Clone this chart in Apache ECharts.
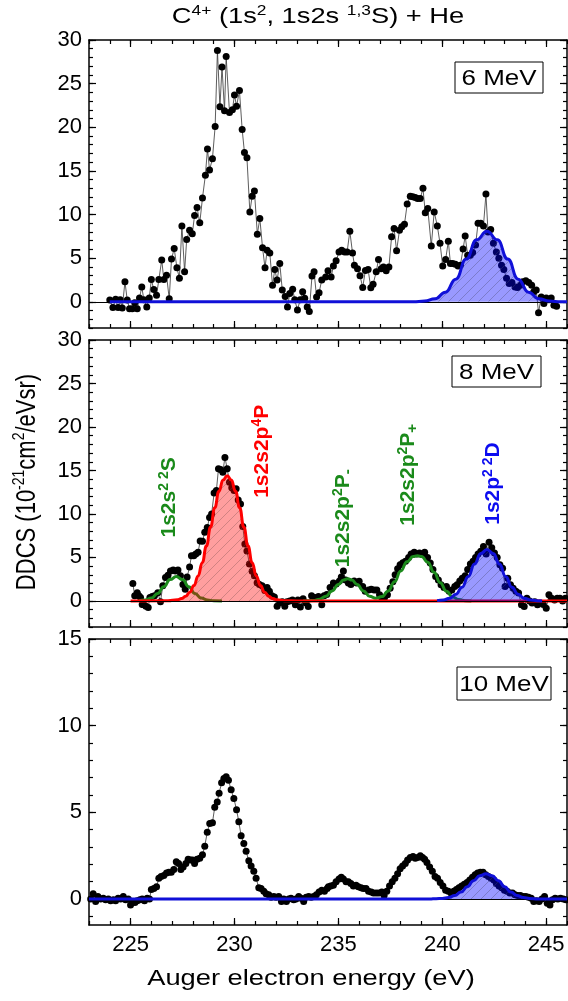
<!DOCTYPE html>
<html>
<head>
<meta charset="utf-8">
<title>C4+ + He Auger spectra</title>
<script src="https://cdn.jsdelivr.net/npm/echarts@6.0.0/dist/echarts.min.js"></script>
<style>
  html, body { margin: 0; padding: 0; background: #fff; }
  #chart { width: 568px; height: 1001px; }
</style>
</head>
<body>
<div id="chart"></div>
<script>
// ---- measured spectra: [Auger electron energy (eV), DDCS (1e-21 cm^2/eV sr)] ----
const scan6MeV = [
  [224.0,0.2],[224.15,-0.65],[224.28,0.3],[224.4,-0.65],[224.5,0.25],[224.6,-0.7],[224.73,2.3],[224.84,0.2],
  [224.95,-0.8],[225.08,-0.8],[225.2,-0.1],[225.32,-0.8],[225.43,0.45],[225.54,1.7],[225.64,0.25],[225.78,-0.6],
  [225.9,0.45],[226.0,2.55],[226.12,1.4],[226.25,0.75],[226.36,2.55],[226.5,4.8],[226.6,2.55],[226.73,3.05],
  [226.86,0.35],[226.97,4.9],[227.1,6.1],[227.23,3.9],[227.35,2.7],[227.47,8.7],[227.6,3.45],[227.7,7.15],
  [227.84,8.2],[227.97,7.8],[228.08,9.9],[228.2,10.8],[228.33,9.05],[228.46,11.9],[228.6,14.5],[228.7,17.5],
  [228.8,15.1],[228.94,16.4],[229.07,20.1],[229.18,28.8],[229.3,22.35],[229.4,26.9],[229.52,21.9],[229.6,28.1],
  [229.76,21.7],[229.9,22.0],[230.0,23.7],[230.1,22.4],[230.24,24.2],[230.37,19.75],[230.48,17.1],[230.6,16.5],
  [230.74,10.3],[230.85,12.1],[230.96,12.7],[231.1,7.75],[231.22,9.55],[231.35,6.2],[231.47,3.9],[231.57,5.9],
  [231.7,5.6],[231.83,1.9],[231.94,3.7],[232.05,2.5],[232.18,4.4],[232.3,1.35],[232.44,0.6],[232.55,-0.6],
  [232.66,0.95],[232.8,1.45],[232.9,0.25],[233.03,-0.95],[233.16,0.25],[233.28,1.15],[233.38,0.4],[233.5,-0.6],
  [233.6,-1.1],[233.73,2.95],[233.83,3.45],[233.95,0.55],[234.07,1.05],[234.2,2.5],[234.39,2.85],[234.5,3.55],
  [234.65,2.85],[234.76,4.1],[234.89,4.7],[235.03,5.7],[235.16,5.9],[235.3,5.7],[235.42,5.7],[235.55,8.1],
  [235.68,5.6],[235.77,4.2],[235.92,3.8],[236.04,3.0],[236.17,1.65],[236.3,3.6],[236.43,3.7],[236.56,1.6],
  [236.67,2.0],[236.82,3.45],[236.93,4.85],[237.06,3.8],[237.17,4.0],[237.3,3.55],[237.43,4.0],[237.56,7.45],
  [237.68,8.4],[237.8,5.85],[237.94,8.2],[238.05,8.6],[238.18,8.9],[238.31,11.2],[238.46,12.1],[238.58,12.05],
  [238.7,11.95],[238.81,11.85],[238.94,11.85],[239.07,13.0],[239.18,10.2],[239.3,10.7],[239.47,6.4],[239.61,10.3],
  [239.76,8.7],[239.89,6.7],[240.02,4.1],[240.16,4.85],[240.29,6.95],[240.39,4.4],[240.5,4.4],[240.63,4.3],
  [240.76,4.1],[240.87,4.2],[241.0,6.05],[241.1,7.55],[241.22,5.35],[241.35,5.35],[241.46,5.65],[241.6,6.5],
  [241.72,9.0],[241.85,9.0],[241.98,8.7],[242.1,12.35],[242.2,8.0],[242.33,8.3],[242.46,6.7],[242.6,5.7],
  [242.72,5.0],[242.85,4.2],[242.96,3.7],[243.09,2.7],[243.22,2.1],[243.35,2.2],[243.5,1.7],[243.62,1.65],
  [243.76,1.9],[243.87,2.3],[244.02,2.4],[244.16,2.2],[244.3,1.9],[244.4,1.15],[244.52,1.35],[244.63,-1.25],
  [244.76,0.55],[244.89,-0.2],[245.0,0.45],[245.13,0.25],[245.24,0.45],[245.37,-0.4],[245.5,-0.5]
];

const scan8MeV = [
  [225.11,2.0],[225.2,0.6],[225.32,0.95],[225.4,0.6],[225.48,0.4],[225.56,-0.4],[225.64,-0.45],[225.74,-0.6],
  [225.85,-0.75],[225.93,0.4],[226.04,0.5],[226.15,0.6],[226.31,0.95],[226.44,-0.1],[226.55,1.75],[226.68,2.7],
  [226.8,2.95],[226.92,3.45],[227.05,3.55],[227.16,3.45],[227.28,3.55],[227.4,2.9],[227.52,1.9],[227.63,1.35],
  [227.72,2.75],[227.84,3.9],[227.93,5.2],[228.04,5.2],[228.14,5.4],[228.25,5.6],[228.35,6.9],[228.46,6.85],
  [228.57,7.9],[228.69,8.45],[228.8,9.6],[228.9,10.0],[229.02,12.4],[229.13,12.7],[229.23,15.2],[229.33,15.1],
  [229.44,14.8],[229.54,16.5],[229.65,15.2],[229.76,13.65],[229.87,13.0],[229.98,12.7],[230.08,12.9],[230.18,11.6],
  [230.29,11.15],[230.4,8.55],[230.5,6.55],[230.6,5.75],[230.72,4.25],[230.85,3.4],[230.96,2.9],[231.09,2.1],
  [231.2,1.9],[231.33,1.75],[231.46,1.2],[231.57,1.55],[231.68,1.1],[231.8,0.6],[231.92,0.45],[232.05,-0.6],
  [232.18,-0.2],[232.3,-0.1],[232.42,-0.6],[232.53,-0.1],[232.66,0.0],[232.79,0.1],[232.93,-0.45],[233.05,0.1],
  [233.17,-0.7],[233.3,0.25],[233.42,-0.2],[233.55,-0.65],[233.71,0.6],[233.87,0.4],[234.04,0.5],[234.2,-0.45],
  [234.31,0.6],[234.44,0.75],[234.6,1.55],[234.76,2.05],[234.89,1.95],[235.05,2.3],[235.14,2.75],[235.24,3.45],
  [235.35,2.4],[235.48,2.05],[235.6,1.9],[235.76,2.3],[235.88,2.05],[236.0,2.25],[236.17,1.65],[236.29,1.1],
  [236.45,1.25],[236.58,1.35],[236.72,1.25],[236.85,1.25],[236.98,0.7],[237.09,0.3],[237.22,0.4],[237.36,0.7],
  [237.49,1.45],[237.62,2.2],[237.73,3.0],[237.85,3.7],[237.97,4.15],[238.1,4.4],[238.23,4.55],[238.38,5.0],
  [238.5,5.4],[238.65,5.6],[238.78,5.4],[238.9,5.5],[239.04,5.4],[239.15,5.6],[239.29,5.0],[239.42,4.35],
  [239.55,3.6],[239.68,2.8],[239.81,2.4],[239.94,1.85],[240.08,1.55],[240.2,1.65],[240.33,1.1],[240.46,1.25],
  [240.6,1.65],[240.71,1.85],[240.84,2.3],[240.96,2.6],[241.1,2.9],[241.22,3.6],[241.35,4.25],[241.48,4.55],
  [241.6,5.0],[241.72,5.4],[241.85,5.7],[241.98,6.25],[242.11,5.4],[242.25,6.75],[242.38,6.1],[242.51,5.5],
  [242.64,5.0],[242.77,4.15],[242.9,3.75],[243.02,1.65],[243.15,2.6],[243.28,1.85],[243.41,1.45],[243.54,1.1],
  [243.67,0.9],[243.81,-0.45],[243.94,-0.65],[244.07,0.3],[244.2,0.0],[244.32,-0.25],[244.45,-0.1],[244.58,-0.45],
  [244.71,-0.25],[244.86,-0.4],[245.0,-0.85],[245.13,0.7],[245.26,0.3],[245.4,0.1],[245.53,0.3],[245.66,0.3],
  [245.79,0.0],[245.92,0.3]
];

const scan10MeV = [
  [223.08,0.0],[223.2,0.3],[223.32,-0.15],[223.43,0.15],[223.56,0.0],[223.69,0.05],[223.8,-0.05],[223.93,0.0],
  [224.04,-0.1],[224.17,-0.05],[224.28,-0.1],[224.4,0.05],[224.52,0.0],[224.65,0.15],[224.76,-0.05],[224.89,0.0],
  [225.0,-0.35],[225.11,-0.15],[225.21,-0.2],[225.32,-0.1],[225.45,-0.05],[225.56,0.0],[225.67,-0.1],[225.8,0.05],
  [225.91,0.0],[226.0,0.55],[226.12,0.6],[226.25,0.7],[226.36,1.2],[226.47,1.3],[226.6,1.35],[226.73,1.5],
  [226.84,1.55],[226.96,1.55],[227.08,1.7],[227.2,2.15],[227.31,2.05],[227.42,1.7],[227.53,1.85],[227.66,2.05],
  [227.77,2.3],[227.88,2.25],[227.98,2.25],[228.08,2.05],[228.2,2.3],[228.33,2.35],[228.46,2.55],[228.57,3.05],
  [228.69,3.85],[228.81,4.35],[228.94,4.4],[229.05,5.3],[229.17,5.6],[229.26,6.1],[229.38,6.7],[229.49,6.95],
  [229.6,7.05],[229.71,6.85],[229.84,6.3],[229.97,5.8],[230.1,5.15],[230.21,4.45],[230.32,3.65],[230.45,3.2],
  [230.56,2.75],[230.69,2.2],[230.8,1.9],[230.93,1.6],[231.04,1.2],[231.17,0.65],[231.28,0.6],[231.41,0.45],
  [231.52,0.3],[231.65,0.25],[231.76,0.1],[231.89,0.15],[232.0,0.1],[232.13,0.15],[232.26,-0.15],[232.37,0.0],
  [232.5,-0.15],[232.61,0.0],[232.72,0.05],[232.85,-0.05],[232.96,0.0],[233.09,0.15],[233.2,0.05],[233.33,-0.15],
  [233.45,0.1],[233.57,0.15],[233.69,0.1],[233.81,0.15],[233.94,0.25],[234.07,0.4],[234.2,0.5],[234.33,0.45],
  [234.46,0.6],[234.52,0.7],[234.63,0.75],[234.76,0.8],[234.89,1.0],[235.03,1.15],[235.14,1.25],[235.24,1.15],
  [235.37,1.0],[235.48,1.0],[235.6,0.9],[235.72,0.75],[235.85,0.8],[235.96,0.7],[236.09,0.65],[236.2,0.6],
  [236.33,0.6],[236.45,0.45],[236.58,0.4],[236.69,0.35],[236.82,0.35],[236.95,0.35],[237.09,0.4],[237.2,0.2],
  [237.33,0.45],[237.46,0.75],[237.59,1.0],[237.72,1.2],[237.85,1.45],[237.97,1.75],[238.09,1.9],[238.22,2.05],
  [238.33,2.25],[238.46,2.4],[238.59,2.45],[238.7,2.35],[238.81,2.4],[238.94,2.5],[239.05,2.4],[239.15,2.3],
  [239.26,2.1],[239.39,1.85],[239.52,1.6],[239.65,1.3],[239.77,1.2],[239.9,0.95],[240.03,0.75],[240.16,0.5],
  [240.29,0.45],[240.42,0.35],[240.55,0.45],[240.68,0.55],[240.8,0.65],[240.93,0.75],[241.06,0.85],[241.19,0.95],
  [241.32,1.1],[241.45,1.25],[241.58,1.4],[241.7,1.5],[241.83,1.55],[241.96,1.55],[242.09,1.4],[242.22,1.3],
  [242.35,1.2],[242.48,1.1],[242.6,0.9],[242.73,0.75],[242.86,0.65],[242.99,0.5],[243.12,0.45],[243.25,0.35],
  [243.38,0.35],[243.5,0.25],[243.63,0.2],[243.76,0.2],[243.89,0.15],[244.02,0.15],[244.15,0.1],[244.28,0.05],
  [244.4,-0.15],[244.53,-0.1],[244.66,-0.15],[244.79,0.0],[244.92,0.15],[245.05,-0.25],[245.18,-0.35],[245.3,-0.05],
  [245.43,0.05],[245.56,0.0],[245.69,0.05],[245.82,0.0],[245.95,-0.05]
];

// ---- fitted line profiles (same units) ----
const fit6MeV_1s2p2D = [
  [224.0,0],[238.6,0],[239.15,0.09],[239.65,0.36],[240.15,1.1],[240.65,2.6],[241.15,4.9],[241.65,7.1],
  [242.15,8.1],[242.65,7.1],[243.15,4.9],[243.65,2.6],[244.15,1.1],[244.65,0.36],[245.15,0.09],[245.7,0],[246.0,0]
];
const fit8MeV_1s2s2S = [
  [225.4,0.02],[225.7,0.1],[226.0,0.33],[226.3,0.84],[226.6,1.64],[226.9,2.45],[227.2,2.8],[227.5,2.45],
  [227.8,1.64],[228.1,0.84],[228.4,0.33],[228.7,0.1],[229.0,0.02],[229.4,0]
];
const fit8MeV_1s2s2p4P = [
  [225.0,0],[226.8,0.02],[227.25,0.13],[227.45,0.27],[227.65,0.54],[227.85,1.0],[228.05,1.76],[228.25,2.87],
  [228.45,4.4],[228.65,6.33],[228.85,8.5],[229.05,10.7],[229.25,12.6],[229.45,13.9],[229.65,14.4],[229.85,13.9],
  [230.05,12.6],[230.25,10.7],[230.45,8.5],[230.65,6.33],[230.85,4.4],[231.05,2.87],[231.25,1.76],[231.45,1.0],
  [231.65,0.54],[231.85,0.27],[232.05,0.13],[232.4,0.03],[233.0,0],[246.0,0]
];
const fit8MeV_1s2s2p2P = [
  [233.3,0],[233.8,0.05],[234.1,0.2],[234.4,0.55],[234.7,1.15],[235.0,1.9],[235.25,2.4],[235.45,2.55],
  [235.65,2.4],[235.9,1.9],[236.2,1.15],[236.5,0.55],[236.8,0.3],[237.1,0.5],[237.4,1.15],[237.7,2.2],
  [238.0,3.45],[238.3,4.5],[238.6,5.1],[238.8,5.2],[239.0,5.1],[239.3,4.45],[239.6,3.3],[239.9,2.1],
  [240.2,1.1],[240.5,0.45],[240.8,0.15],[241.1,0.03],[241.4,0]
];
const fit8MeV_1s2p2D = [
  [239.75,0.03],[240.05,0.1],[240.35,0.3],[240.65,0.76],[240.95,1.58],[241.25,2.8],[241.55,4.25],[241.85,5.45],
  [242.15,5.9],[242.45,5.45],[242.75,4.25],[243.05,2.8],[243.35,1.58],[243.65,0.76],[243.95,0.3],[244.25,0.1],
  [244.55,0.03],[244.8,0]
];
const fit10MeV_1s2p2D = [
  [223.0,0],[239.4,0],[239.7,0.02],[240.0,0.03],[240.3,0.08],[240.6,0.2],[240.9,0.4],[241.2,0.71],[241.5,1.05],
  [241.8,1.34],[242.1,1.45],[242.4,1.34],[242.7,1.05],[243.0,0.71],[243.3,0.4],[243.6,0.2],[243.9,0.08],
  [244.2,0.03],[244.6,0],[246.0,0]
];

// ---- axes: ranges and tick values ----
const energyRange = [223, 246];
const energyMajorTicks = [225, 230, 235, 240, 245];
const energyMinorTicks = [223,224,225,226,227,228,229,230,231,232,233,234,235,236,237,238,239,240,241,242,243,244,245,246];
const ddcsRangeWide = [-3, 30];
const ddcsMajorWide = [0, 5, 10, 15, 20, 25, 30];
const ddcsMinorWide = [-3,-2,-1,0,1,2,3,4,5,6,7,8,9,10,11,12,13,14,15,16,17,18,19,20,21,22,23,24,25,26,27,28,29,30];
const ddcsRangeNarrow = [-1.5, 15];
const ddcsMajorNarrow = [0, 5, 10, 15];
const ddcsMinorNarrow = [-1,0,1,2,3,4,5,6,7,8,9,10,11,12,13,14,15];

// ---- text ----
const energyLabels = ['6 MeV', '8 MeV', '10 MeV'];
const peakLabels = [
  { at: [226.88, 11.9], color: '#1a8a1a', text: '{m|1s2s}{s|2 2}{m|S}' },
  { at: [231.34, 17.2], color: '#ff0000', text: '{m|1s2s2p}{s|4}{m|P}' },
  { at: [235.22, 9.5],  color: '#1a8a1a', text: '{m|1s2s2p}{s|2}{m|P}{b|-}' },
  { at: [238.35, 14.5], color: '#1a8a1a', text: '{m|1s2s2p}{s|2}{m|P}{b|+}' },
  { at: [242.45, 13.5], color: '#0c0cf0', text: '{m|1s2p}{s|2 2}{m|D}' }
];

const FONT = '"Liberation Sans", Arial, Helvetica, sans-serif';
const BLUE = '#1010d8';
const RED = '#ff0000';
const GREEN = '#1c8a1c';

// diagonal-hatched translucent fill used under the filled profiles
function hatch(fill, stroke) {
  const s = 10;
  const c = document.createElement('canvas');
  c.width = s; c.height = s;
  const g = c.getContext('2d');
  g.fillStyle = fill;
  g.fillRect(0, 0, s, s);
  g.strokeStyle = stroke;
  g.lineWidth = 0.8;
  g.beginPath();
  g.moveTo(0, s); g.lineTo(s, 0);
  g.moveTo(-1, 1); g.lineTo(1, -1);
  g.moveTo(s - 1, s + 1); g.lineTo(s + 1, s - 1);
  g.stroke();
  return { image: c, repeat: 'repeat' };
}
const blueFill = hatch('rgba(0,0,255,0.40)', 'rgba(70,70,110,0.45)');
const redFill = hatch('rgba(255,0,0,0.38)', 'rgba(110,70,70,0.40)');

const grids = [
  { left: 89, right: 1, top: 40, height: 288 },
  { left: 89, right: 1, top: 340, height: 287 },
  { left: 89, right: 1, top: 639, height: 286 }
];

const axisLineStyle = { color: '#000', width: 1.5 };
const tickLineStyle = { color: '#000', width: 1.2 };

function xAxesFor(gi, withLabels) {
  const base = {
    type: 'value', gridIndex: gi, min: energyRange[0], max: energyRange[1],
    splitLine: { show: false }
  };
  const label = withLabels
    ? { show: true, customValues: energyMajorTicks, fontSize: 22, fontFamily: FONT, color: '#000', margin: 9 }
    : { show: false };
  return [
    Object.assign({}, base, { position: 'bottom', axisLine: { show: true, onZero: false, lineStyle: axisLineStyle },
      axisTick: { show: true, inside: true, length: 4, customValues: energyMinorTicks, lineStyle: tickLineStyle }, axisLabel: label }),
    Object.assign({}, base, { position: 'bottom', axisLine: { show: false, onZero: false },
      axisTick: { show: true, inside: true, length: 7, customValues: energyMajorTicks, lineStyle: tickLineStyle }, axisLabel: { show: false } }),
    Object.assign({}, base, { position: 'top', axisLine: { show: true, onZero: false, lineStyle: axisLineStyle },
      axisTick: { show: true, inside: true, length: 4, customValues: energyMinorTicks, lineStyle: tickLineStyle }, axisLabel: { show: false } }),
    Object.assign({}, base, { position: 'top', axisLine: { show: false, onZero: false },
      axisTick: { show: true, inside: true, length: 7, customValues: energyMajorTicks, lineStyle: tickLineStyle }, axisLabel: { show: false } })
  ];
}

function yAxesFor(gi, range, major, minor) {
  const base = { type: 'value', gridIndex: gi, min: range[0], max: range[1], splitLine: { show: false } };
  return [
    Object.assign({}, base, { position: 'left', axisLine: { show: true, onZero: false, lineStyle: axisLineStyle },
      axisTick: { show: true, inside: true, length: 4, customValues: minor, lineStyle: tickLineStyle },
      axisLabel: { show: true, customValues: major, fontSize: 22, fontFamily: FONT, color: '#000', margin: 7 } }),
    Object.assign({}, base, { position: 'left', axisLine: { show: false, onZero: false },
      axisTick: { show: true, inside: true, length: 7, customValues: major, lineStyle: tickLineStyle }, axisLabel: { show: false } }),
    Object.assign({}, base, { position: 'right', axisLine: { show: true, onZero: false, lineStyle: axisLineStyle },
      axisTick: { show: true, inside: true, length: 4, customValues: minor, lineStyle: tickLineStyle }, axisLabel: { show: false } }),
    Object.assign({}, base, { position: 'right', axisLine: { show: false, onZero: false },
      axisTick: { show: true, inside: true, length: 7, customValues: major, lineStyle: tickLineStyle }, axisLabel: { show: false } })
  ];
}

const xAxis = [].concat(xAxesFor(0, false), xAxesFor(1, false), xAxesFor(2, true));
const yAxis = [].concat(
  yAxesFor(0, ddcsRangeWide, ddcsMajorWide, ddcsMinorWide),
  yAxesFor(1, ddcsRangeWide, ddcsMajorWide, ddcsMinorWide),
  yAxesFor(2, ddcsRangeNarrow, ddcsMajorNarrow, ddcsMinorNarrow)
);

// measured points joined by a thin line, with the zero reference line
function scanSeries(gi, data) {
  return {
    type: 'line', xAxisIndex: gi * 4, yAxisIndex: gi * 4, data: data, z: 2,
    symbol: 'circle', symbolSize: 7, showAllSymbol: true,
    itemStyle: { color: '#000', borderWidth: 0 },
    lineStyle: { color: '#333', width: 0.8 },
    markLine: {
      silent: true, symbol: 'none', label: { show: false },
      lineStyle: { color: '#000', width: 1, type: 'solid' },
      data: [{ yAxis: 0 }]
    }
  };
}

// fitted profile, drawn above the points (z) so its fill tints the dots beneath
function profileSeries(gi, data, color, fill, z) {
  const s = {
    type: 'line', xAxisIndex: gi * 4, yAxisIndex: gi * 4, data: data, z: z,
    smooth: 0.5, smoothMonotone: 'x', symbol: 'none',
    lineStyle: { color: color, width: 3 }
  };
  if (fill) s.areaStyle = { color: fill, opacity: 1 };
  return s;
}

function richFor(color) {
  return {
    m: { fontSize: 21, fontWeight: 'bold', fontFamily: FONT, color: color, lineHeight: 24 },
    s: { fontSize: 14, fontWeight: 'bold', fontFamily: FONT, color: color, verticalAlign: 'top', lineHeight: 14 },
    b: { fontSize: 15, fontWeight: 'bold', fontFamily: FONT, color: color, verticalAlign: 'bottom', lineHeight: 12 }
  };
}

const labelSeries = {
  type: 'scatter', xAxisIndex: 4, yAxisIndex: 4, symbolSize: 0, silent: true, z: 10,
  itemStyle: { opacity: 1 },
  data: peakLabels.map(p => ({
    value: p.at,
    label: {
      show: true, position: 'inside', rotate: 90, align: 'center', verticalAlign: 'middle',
      color: p.color, opacity: 1,
      formatter: p.text, rich: richFor(p.color)
    }
  }))
};

const series = [
  scanSeries(0, scan6MeV),
  profileSeries(0, fit6MeV_1s2p2D, BLUE, blueFill, 5),

  scanSeries(1, scan8MeV),
  profileSeries(1, fit8MeV_1s2s2S, GREEN, null, 3),
  profileSeries(1, fit8MeV_1s2s2p2P, GREEN, null, 3),
  profileSeries(1, fit8MeV_1s2s2p4P, RED, redFill, 4),
  profileSeries(1, fit8MeV_1s2p2D, BLUE, blueFill, 5),
  labelSeries,

  scanSeries(2, scan10MeV),
  profileSeries(2, fit10MeV_1s2p2D, BLUE, blueFill, 5)
];

const mainRich = {
  m: { fontSize: 22, fontFamily: FONT, fill: '#000', lineHeight: 26 },
  s: { fontSize: 14, fontFamily: FONT, fill: '#000', verticalAlign: 'top', lineHeight: 15 }
};

function energyBox(x, y, w, h, text) {
  return {
    type: 'group', x: x, y: y,
    children: [
      { type: 'rect', shape: { x: 0, y: 0, width: w, height: h }, style: { fill: '#fff', stroke: '#000', lineWidth: 1 } },
      { type: 'text', x: w / 2, y: h / 2 + 1, scaleX: 1.18,
        style: { text: text, fontSize: 22, fontFamily: FONT, fill: '#000', align: 'center', verticalAlign: 'middle' } }
    ]
  };
}

const graphic = [
  { type: 'text', x: 318, y: 17, scaleX: 1.24, z: 10,
    style: { text: '{m|C}{s|4+}{m| (1s}{s|2}{m|, 1s2s }{s|1,3}{m|S) + He}', rich: mainRich,
             align: 'center', verticalAlign: 'middle' } },
  { type: 'text', x: 27, y: 482, rotation: Math.PI / 2, scaleY: 1.24, z: 10,
    style: { text: '{m|DDCS (10}{s|-21}{m|cm}{s|2}{m|/eVsr)}', rich: mainRich,
             align: 'center', verticalAlign: 'middle' } },
  { type: 'text', x: 311, y: 979, scaleX: 1.24, z: 10,
    style: { text: 'Auger electron energy (eV)', fontSize: 22, fontFamily: FONT, fill: '#000',
             align: 'center', verticalAlign: 'middle' } },
  energyBox(455, 62, 88, 31, energyLabels[0]),
  energyBox(452, 356, 89, 31, energyLabels[1]),
  energyBox(457, 667, 94, 33, energyLabels[2])
];

const chart = echarts.init(document.getElementById('chart'), null, { renderer: 'canvas' });
chart.setOption({
  backgroundColor: '#fff',
  animation: false,
  grid: grids,
  xAxis: xAxis,
  yAxis: yAxis,
  series: series,
  graphic: graphic
});
</script>
</body>
</html>
